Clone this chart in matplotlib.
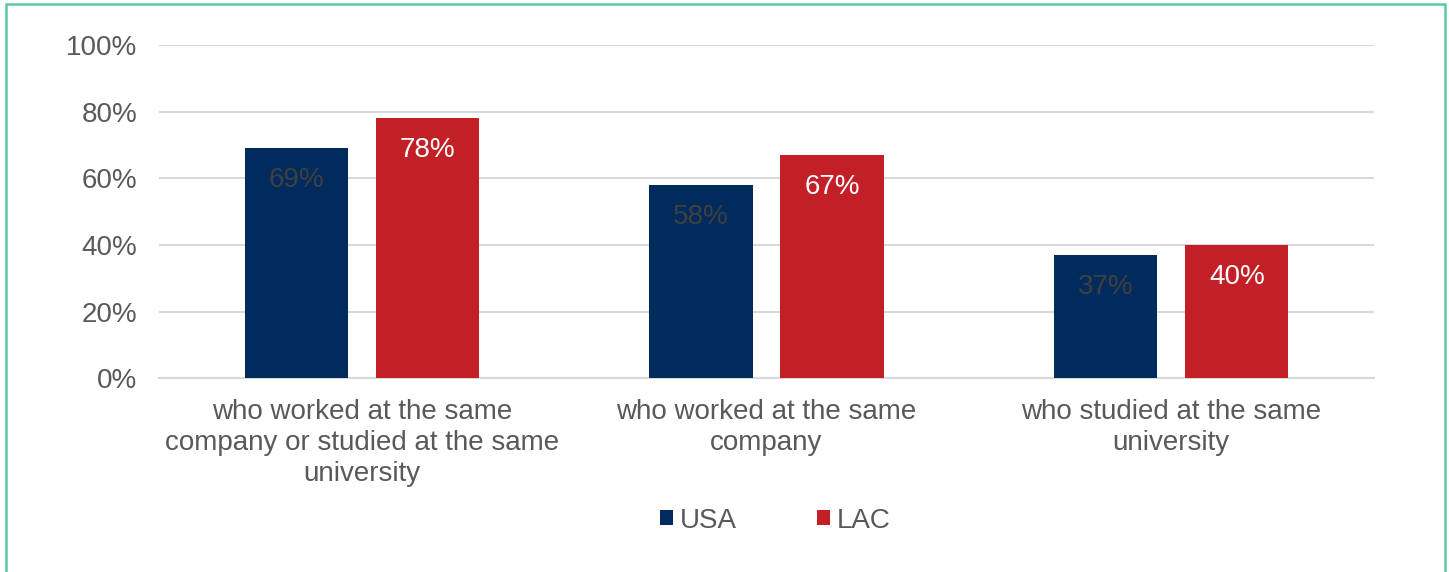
import numpy as np
import matplotlib.pyplot as plt
from matplotlib.patches import Rectangle

plt.rcParams['font.family'] = ['Liberation Sans', 'DejaVu Sans']

categories = ['who worked at the same\ncompany or studied at the same\nuniversity',
              'who worked at the same\ncompany',
              'who studied at the same\nuniversity']
usa = [0.69, 0.58, 0.37]
lac = [0.78, 0.67, 0.40]

navy = '#002b5c'
red = '#c21f26'
fs = 20

fig = plt.figure(figsize=(14.49, 5.72), dpi=100)
ax = fig.add_axes([0.110, 0.339, 0.838, 0.582])

x = np.arange(len(categories))
w = 0.255
off = 0.162
b1 = ax.bar(x - off, usa, w, color=navy, label='USA', zorder=3)
b2 = ax.bar(x + off, lac, w, color=red, label='LAC', zorder=3)

for r, v in zip(b1, usa):
    ax.text(r.get_x() + r.get_width()/2, v - 0.095, f'{v*100:.0f}%', ha='center', va='center',
            fontsize=fs, color='#404040', zorder=4)
for r, v in zip(b2, lac):
    ax.text(r.get_x() + r.get_width()/2, v - 0.095, f'{v*100:.0f}%', ha='center', va='center',
            fontsize=fs, color='white', zorder=4)

ax.set_xlim(-0.5, 2.5)
ax.set_ylim(0, 1)
ax.set_yticks(np.arange(0, 1.01, 0.2))
ax.set_yticklabels([f'{int(t*100)}%' for t in np.arange(0, 1.01, 0.2)])
ax.yaxis.grid(True, color='#d9d9d9', linewidth=1.5, zorder=0)
ax.set_axisbelow(True)
ax.set_xticks(x)
ax.set_xticklabels(categories, linespacing=1.26)
ax.tick_params(axis='both', length=0, labelsize=fs, labelcolor='#595959')
ax.tick_params(axis='y', pad=16)
ax.tick_params(axis='x', pad=15)
for s in ['top', 'right', 'left']:
    ax.spines[s].set_visible(False)
ax.spines['bottom'].set_color('#d9d9d9')
ax.spines['bottom'].set_linewidth(1.5)

leg = fig.legend(handles=[b1, b2], loc='center', bbox_to_anchor=(0.535, 0.09), ncol=2,
                 frameon=False, fontsize=fs, handlelength=0.45, handleheight=0.45,
                 columnspacing=2.9, handletextpad=0.25)
for t in leg.get_texts():
    t.set_color('#595959')

# outer border
fig.patches.append(Rectangle((6/1449, -0.01), (1445-6)/1449, 1 - 4/572 + 0.01,
                             transform=fig.transFigure, fill=False,
                             edgecolor='#5cc8a8', linewidth=1.8))

fig.savefig('out.png', dpi=100)
